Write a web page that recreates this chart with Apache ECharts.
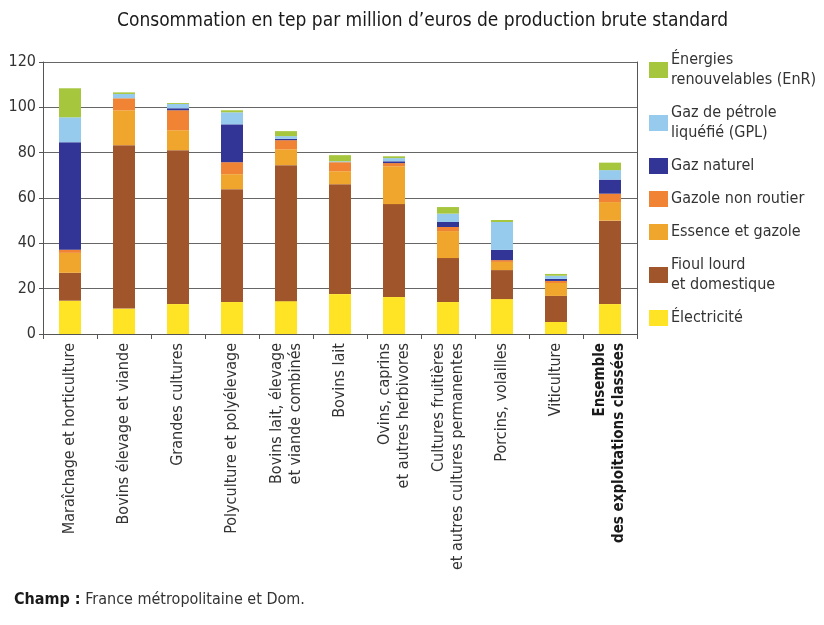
<!DOCTYPE html>
<html>
<head>
<meta charset="utf-8">
<script src="https://cdn.jsdelivr.net/npm/echarts@6/dist/echarts.min.js"></script>
<style>
  html, body { margin: 0; padding: 0; background: #fff; }
  #chart { width: 824px; height: 625px; }
</style>
</head>
<body>
<div id="chart"></div>
<script>
// categories (x axis)
var categories = [
  "Maraîchage et horticulture",
  "Bovins élevage et viande",
  "Grandes cultures",
  "Polyculture et polyélevage",
  "Bovins lait, élevage\net viande combinés",
  "Bovins lait",
  "Ovins, caprins\net autres herbivores",
  "Cultures fruitières\net autres cultures permanentes",
  "Porcins, volailles",
  "Viticulture",
  "Ensemble\ndes exploitations classées"
];

// tep par million d'euros
var electricite = [14.7, 11.2, 13.2, 14.1, 14.5, 17.6, 16.3, 14.1, 15.4, 5.3, 13.2];
var fioul       = [12.3, 72.1, 67.9, 49.8, 60.0, 48.5, 41.0, 19.4, 12.8, 11.5, 36.8];
var essence     = [8.8, 15.4, 8.8, 6.6, 7.0, 5.7, 16.7, 11.9, 3.6, 5.7, 8.2];
var gazoleNR    = [1.4, 5.3, 8.8, 5.3, 4.0, 4.0, 1.4, 1.8, 0.8, 0.9, 3.7];
var gazNaturel  = [47.4, 0, 0.9, 16.7, 0.6, 0, 0.8, 2.2, 4.5, 0.9, 6.2];
var gpl         = [11.0, 1.9, 1.9, 5.3, 1.2, 0.4, 1.4, 3.7, 12.3, 1.4, 4.2];
var enr         = [12.8, 0.7, 0.4, 0.9, 2.2, 2.7, 0.8, 2.9, 0.9, 0.8, 3.3];

var yTicks = [0, 20, 40, 60, 80, 100, 120];

var FONT = "'Liberation Sans Narrow', 'DejaVu Sans Condensed', sans-serif";

var seriesDefs = [
  { name: "Électricité", data: electricite, color: "#FFE425" },
  { name: "Fioul lourd\net domestique", data: fioul, color: "#A1552B" },
  { name: "Essence et gazole", data: essence, color: "#F0A52C" },
  { name: "Gazole non routier", data: gazoleNR, color: "#F08334" },
  { name: "Gaz naturel", data: gazNaturel, color: "#323595" },
  { name: "Gaz de pétrole\nliquéfié (GPL)", data: gpl, color: "#96CBEE" },
  { name: "Énergies\nrenouvelables (EnR)", data: enr, color: "#A6C63D" }
];

var myChart = echarts.init(document.getElementById("chart"));

// last category is bold in the original
var xData = categories.map(function (c, i) {
  if (i === categories.length - 1) {
    return { value: c, textStyle: { fontWeight: "bold", fontSize: 15, color: "#1a1a1a" } };
  }
  return c;
});

var option = {
  animation: false,
  backgroundColor: "#fff",
  textStyle: { fontFamily: FONT },
  title: {
    text: "Consommation en tep par million d’euros de production brute standard",
    left: 112,
    top: 7,
    textStyle: { fontFamily: FONT, fontSize: 19, fontWeight: "normal", color: "#1a1a1a" }
  },
  legend: {
    orient: "vertical",
    left: 644,
    top: 45,
    icon: "rect",
    itemWidth: 19,
    itemHeight: 16,
    itemGap: 13,
    data: seriesDefs.map(function (s) { return s.name; }).reverse(),
    textStyle: { fontFamily: FONT, fontSize: 16, color: "#333", lineHeight: 20, padding: [0, 0, 0, -2] }
  },
  grid: { left: 43, right: 187, top: 62, bottom: 291, containLabel: false },
  xAxis: {
    type: "category",
    data: xData,
    axisLine: { lineStyle: { color: "#555", width: 1 } },
    axisTick: { show: true, length: 5, lineStyle: { color: "#555" } },
    axisLabel: {
      interval: 0,
      rotate: 90,
      margin: 9,
      fontFamily: FONT,
      fontSize: 16,
      lineHeight: 19,
      color: "#333"
    }
  },
  yAxis: [
    {
      type: "value",
      min: yTicks[0],
      max: yTicks[yTicks.length - 1],
      interval: 20,
      axisLine: { show: true, lineStyle: { color: "#555" } },
      axisTick: { show: true, length: 4, lineStyle: { color: "#555" } },
      axisLabel: { fontFamily: FONT, fontSize: 16, color: "#333", margin: 7 },
      splitLine: { lineStyle: { color: "#666", width: 1 } }
    },
    {
      type: "value",
      position: "right",
      min: yTicks[0],
      max: yTicks[yTicks.length - 1],
      interval: 20,
      axisLine: { show: true, lineStyle: { color: "#555" } },
      axisTick: { show: false },
      axisLabel: { show: false },
      splitLine: { show: false }
    }
  ],
  series: seriesDefs.map(function (s) {
    return {
      name: s.name,
      type: "bar",
      stack: "total",
      barWidth: 22,
      data: s.data,
      itemStyle: { color: s.color },
      emphasis: { disabled: true }
    };
  }),
  graphic: [
    {
      type: "text",
      left: 14,
      top: 592,
      style: {
        text: "{b|Champ :} France métropolitaine et Dom.",
        rich: {
          b: { fontFamily: FONT, fontSize: 16, fontWeight: "bold", fill: "#1a1a1a" }
        },
        font: "16px " + FONT,
        fill: "#333"
      }
    }
  ]
};

myChart.setOption(option);
</script>
</body>
</html>
